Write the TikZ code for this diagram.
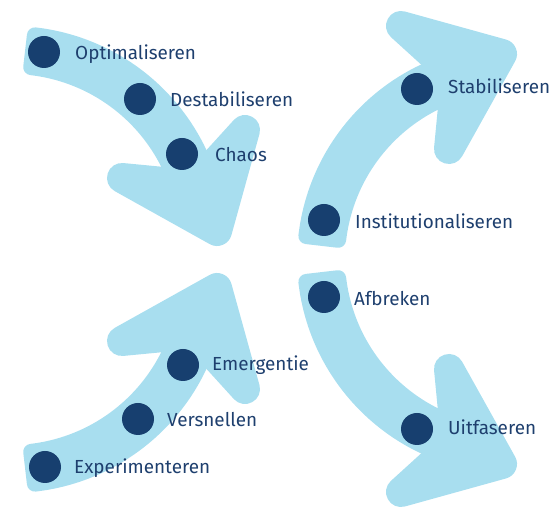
\documentclass[tikz,border=0pt]{standalone}
\usepackage{fontspec}
\setmainfont{Fira Sans}
\definecolor{arrowblue}{HTML}{A8DEEF}
\definecolor{dotblue}{HTML}{173F6F}
\definecolor{textblue}{HTML}{1E3F6E}
\tikzset{
  arrowfill/.style={fill=arrowblue, draw=arrowblue, line join=round},
  stepdot/.style={circle, fill=dotblue, minimum size=32pt, inner sep=0pt},
  steplabel/.style={anchor=base west, inner sep=0pt, text=textblue,
    font=\fontsize{18.9pt}{23pt}\selectfont},
}
\newcommand{\flowarrow}{%
  \begin{scope}[shift={(11pt,266pt)}]
    \path[arrowfill, line width=16pt] (83.4:208pt)
      arc[start angle=83.4, end angle=15, radius=208pt] -- (15:176pt)
      arc[start angle=15, end angle=83.4, radius=176pt] -- cycle;
  \end{scope}
  \path[arrowfill, line width=30pt] (122pt,330pt) -- (195pt,323pt)
    -- (245pt,378pt) -- (217pt,277pt) -- cycle;
}
\begin{document}
\begin{tikzpicture}
\useasboundingbox (0pt,0pt) rectangle (554pt,508pt);
\flowarrow
\begin{scope}[cm={0,1,-1,0,(779pt,237pt)}]\flowarrow\end{scope}
\begin{scope}[cm={1,0,0,-1,(0pt,497pt)}]\flowarrow\end{scope}
\begin{scope}[cm={0,-1,-1,0,(779pt,261pt)}]\flowarrow\end{scope}

\node[stepdot] (d1) at (44pt,456pt) {};
\node[stepdot] (d2) at (140pt,409pt) {};
\node[stepdot] (d3) at (182pt,354pt) {};
\node[stepdot] (d4) at (417pt,419pt) {};
\node[stepdot] (d5) at (324pt,288pt) {};
\node[stepdot] (d6) at (324pt,211pt) {};
\node[stepdot] (d7) at (417pt,79pt) {};
\node[stepdot] (d8) at (183pt,143pt) {};
\node[stepdot] (d9) at (138pt,89pt) {};
\node[stepdot] (d10) at (45pt,41pt) {};

\node[steplabel] (l1) at (75pt,448pt) {Optimaliseren};
\node[steplabel] (l2) at (170pt,401pt) {Destabiliseren};
\node[steplabel] (l3) at (215pt,346pt) {Chaos};
\node[steplabel] (l4) at (448pt,414pt) {Stabiliseren};
\node[steplabel] (l5) at (355pt,279pt) {Institutionaliseren};
\node[steplabel] (l6) at (354pt,202pt) {Afbreken};
\node[steplabel] (l7) at (448pt,73pt) {Uitfaseren};
\node[steplabel] (l8) at (212pt,137pt) {Emergentie};
\node[steplabel] (l9) at (167pt,81pt) {Versnellen};
\node[steplabel] (l10) at (74pt,34pt) {Experimenteren};
\end{tikzpicture}
\end{document}
